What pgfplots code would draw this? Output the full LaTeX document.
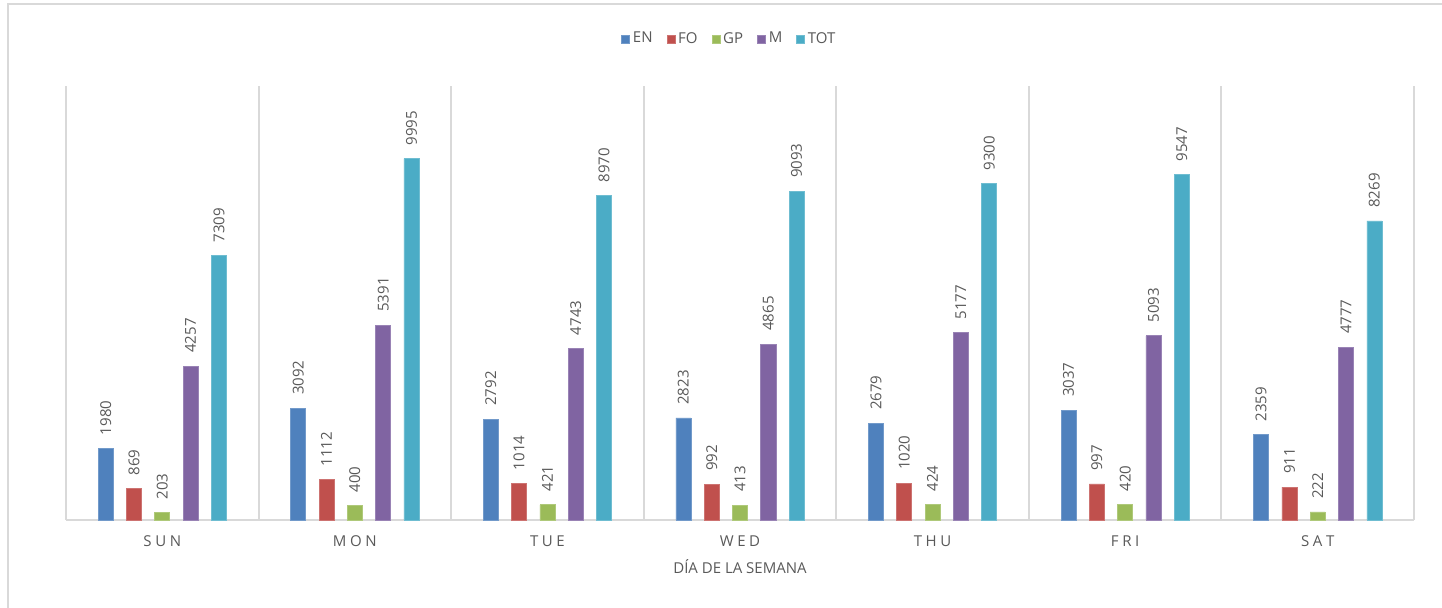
\documentclass[border=0pt]{standalone}
\usepackage{fontspec}
\setmainfont{Open Sans}
\usepackage{pgfplots}
\pgfplotsset{compat=1.18}
\definecolor{cEN}{HTML}{4F81BD}
\definecolor{cFO}{HTML}{C0504D}
\definecolor{cGP}{HTML}{9BBB59}
\definecolor{cM}{HTML}{8064A2}
\definecolor{cTOT}{HTML}{4BACC6}
\definecolor{txt}{HTML}{595959}
\definecolor{gridc}{HTML}{D9D9D9}
\newcommand{\fs}{\fontsize{7.5}{9}\selectfont}
\newcommand{\ls}{\hspace{1.8pt}}
\begin{document}
\begin{tikzpicture}
\path[use as bounding box] (0,0) rectangle (721pt,304pt);
\draw[gridc, line width=0.7pt] (4pt,-1pt) -- (4pt,302pt) -- (722pt,302pt);
\begin{axis}[
  at={(33pt,44pt)}, anchor=south west,
  scale only axis, width=674pt, height=217pt,
  xmin=-0.5, xmax=6.5, ymin=0, ymax=12000,
  axis y line=none,
  axis x line*=bottom,
  x axis line style={gridc, line width=1pt},
  xtick={0,...,6},
  xticklabels={S\ls U\ls N, M\ls O\ls N, T\ls U\ls E, W\ls E\ls D, T\ls H\ls U, F\ls R\ls I, S\ls A\ls T},
  major tick length=0pt, minor tick length=0pt,
  minor xtick={-0.5,0.5,...,6.5},
  xminorgrids, minor grid style={gridc, line width=1pt},
  ytick=\empty,
  xticklabel style={font=\fs, text=txt, anchor=base, yshift=-13.25pt},
  xlabel={DÍA DE LA SEMANA},
  ylabel={NÚMERO DE TUITS},
  every axis x label/.style={at={(axis description cs:0.5,0)}, anchor=center, yshift=-23.5pt, font=\fs, text=txt},
  every axis y label/.style={at={(axis description cs:0,0.5)}, anchor=center, rotate=90, xshift=-7.5pt, font=\fs, text=txt},
  legend columns=-1,
  legend style={at={(0.4925,1.108)}, anchor=center, draw=none, font=\fs, text=txt,
    nodes={inner xsep=1.5pt},
    /tikz/every even column/.append style={column sep=5.5pt}},
  legend image code/.code={\fill[#1] (0pt,-2pt) rectangle (4pt,2pt);},
  nodes near coords,
  /pgf/number format/.cd, 1000 sep={}, assume math mode=true, /pgfplots/.cd,
  every node near coord/.append style={rotate=90, anchor=west, font=\fs, text=txt, inner xsep=6.5pt},
  clip=false,
]
\addplot[ybar, bar width=0.078, bar shift=0, x filter/.expression={x-0.294}, fill=cEN, draw=cEN!80!white, line width=0.3pt] coordinates {(0,1980) (1,3092) (2,2792) (3,2823) (4,2679) (5,3037) (6,2359)};
\addlegendentry{EN}
\addplot[ybar, bar width=0.078, bar shift=0, x filter/.expression={x-0.147}, fill=cFO, draw=cFO!80!white, line width=0.3pt] coordinates {(0,869) (1,1112) (2,1014) (3,992) (4,1020) (5,997) (6,911)};
\addlegendentry{FO}
\addplot[ybar, bar width=0.078, bar shift=0, fill=cGP, draw=cGP!80!white, line width=0.3pt] coordinates {(0,203) (1,400) (2,421) (3,413) (4,424) (5,420) (6,222)};
\addlegendentry{GP}
\addplot[ybar, bar width=0.078, bar shift=0, x filter/.expression={x+0.147}, fill=cM, draw=cM!80!white, line width=0.3pt] coordinates {(0,4257) (1,5391) (2,4743) (3,4865) (4,5177) (5,5093) (6,4777)};
\addlegendentry{M}
\addplot[ybar, bar width=0.078, bar shift=0, x filter/.expression={x+0.294}, fill=cTOT, draw=cTOT!80!white, line width=0.3pt] coordinates {(0,7309) (1,9995) (2,8970) (3,9093) (4,9300) (5,9547) (6,8269)};
\addlegendentry{TOT}
\end{axis}
\end{tikzpicture}
\end{document}
